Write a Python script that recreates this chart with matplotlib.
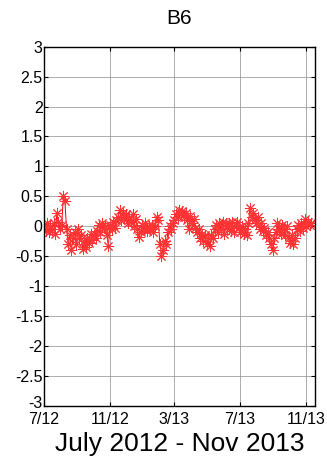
import numpy as np
import pandas as pd
import matplotlib
matplotlib.use("Agg")
import matplotlib.pyplot as plt
import matplotlib.transforms as mtransforms

plt.rcParams['font.family'] = ['Liberation Sans', 'DejaVu Sans']

# values, one every 3 days from 1 July 2012
values = [0.02, -0.08, 0.05, -0.1, 0.0,
          -0.05, 0.05, -0.12,
          0.22, 0.08,
          -0.05, 0.02,
          0.5, 0.42, -0.05,
          -0.3, -0.15, -0.4, -0.2,
          -0.1, -0.3, -0.05, -0.2,
          -0.15, -0.38, -0.25, -0.35,
          -0.2, -0.28, -0.12, -0.22, -0.15, -0.2,
          -0.08, 0.02, -0.1, 0.05, -0.02,
          0.0, -0.15, -0.33,
          0.02, -0.05, 0.08, -0.02, 0.1,
          0.15, 0.27, 0.1, 0.22, 0.12,
          0.2, 0.05, 0.15, 0.08, 0.2, 0.0, 0.12,
          -0.05, -0.18, -0.1,
          0.02, -0.05, 0.05, -0.08, 0.0, -0.05, 0.03, -0.1, 0.0,
          0.15, 0.1,
          -0.3, -0.5, -0.4, -0.25, -0.3,
          -0.1, 0.0, -0.05, 0.05,
          0.1, 0.2, 0.15, 0.27, 0.2, 0.25, 0.15, 0.22,
          0.1, -0.05, 0.18, 0.05, 0.12, -0.02,
          -0.1, -0.05, -0.2, -0.12, -0.25, -0.15,
          -0.3, -0.2, -0.32, -0.15, -0.2,
          -0.05, 0.02, -0.1, 0.05, -0.05, 0.08, -0.12, 0.05, -0.02,
          0.05, -0.08, 0.08, -0.1, 0.03, 0.07, -0.03,
          -0.1, 0.0, -0.12, -0.05, -0.15,
          0.05, 0.3, 0.15, 0.22,
          0.1, 0.05, 0.15, -0.05, 0.05,
          -0.08, -0.02, -0.15, -0.1, -0.2,
          -0.3, -0.4, -0.2, -0.1,
          0.05, -0.05, -0.12, 0.02, -0.05, -0.15, 0.0,
          -0.2, -0.28, -0.15, -0.3, -0.2,
          -0.05, 0.02, -0.08, 0.05, -0.02, 0.12,
          0.0, 0.08, 0.03, 0.06]
start = pd.Timestamp("2012-07-01")
dates = pd.date_range(start, periods=len(values), freq="3D")

tick_dates = pd.to_datetime(["2012-07-01", "2012-11-01", "2013-03-01", "2013-07-01", "2013-11-01"])
tick_labels = ["7/12", "11/12", "3/13", "7/13", "11/13"]
y_ticks = [-3, -2.5, -2, -1.5, -1, -0.5, 0, 0.5, 1, 1.5, 2, 2.5, 3]

fig = plt.figure(figsize=(3.27, 4.76), dpi=100)
ax = fig.add_axes([0.1346, 0.147, 0.963 - 0.1346, 0.902 - 0.147])

# MATLAB style '*' marker: eight-spoke asterisk
ax.plot(dates, values, color="red", lw=0.7, marker=(8, 2, 0), ms=8, mew=0.7,
        markeredgecolor=(1, 0.2, 0.2))

ax.set_xlim(start, start + pd.Timedelta(days=505))
ax.set_ylim(-3, 3)
ax.set_xticks(tick_dates)
ax.set_xticklabels(tick_labels)
ax.set_yticks(y_ticks)
ax.set_yticklabels([f"{v:g}" for v in y_ticks])

ax.grid(True, color="0.55", linestyle="-", lw=0.5)
ax.tick_params(direction="in", length=3, width=0.8, top=True, right=True,
               labelsize=11.5, pad=1)
ax.tick_params(axis="x", pad=4)
for s in ax.spines.values():
    s.set_linewidth(1.0)

# lift the bottom y label a little so it clears "7/12"
lab = ax.get_yticklabels()[0]
lab.set_transform(lab.get_transform() + mtransforms.ScaledTranslation(0, 3 / 72, fig.dpi_scale_trans))

ax.set_title("B6", fontsize=15, pad=16)
ax.set_xlabel("July 2012 - Nov 2013", fontsize=19, labelpad=4)

fig.savefig("out.png", dpi=100)
